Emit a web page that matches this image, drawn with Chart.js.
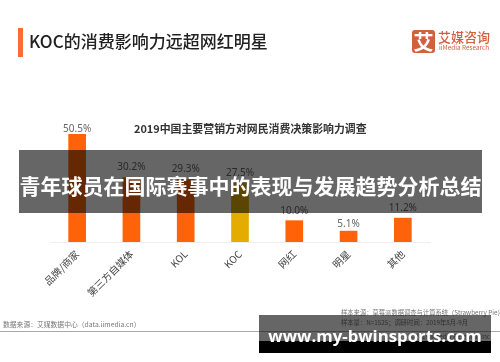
<!DOCTYPE html>
<html>
<head>
<meta charset="utf-8">
<script src="https://cdn.jsdelivr.net/npm/chart.js@4"></script>
<style>
  html, body { margin: 0; padding: 0; background: #fff; }
  #page { position: relative; width: 500px; height: 362px; overflow: hidden; font-family: "Noto Sans CJK SC", "Noto Sans", sans-serif; }
  #page div { position: absolute; white-space: nowrap; }
  canvas { position: absolute; left: 0; top: 0; }
  .note { font-size: 6.3px; line-height: 10px; color: #777; }
</style>
</head>
<body>
<div id="page">
  <canvas id="influenceChart" width="500" height="362"></canvas>

  <div style="left:18px;top:28px;width:5px;height:29px;background:#ff6b35"></div>
  <div style="left:29px;top:29px;font-size:17px;line-height:24px;color:#222;font-weight:500">KOC的消费影响力远超网红明星</div>

  <div style="left:412px;top:30px;width:23px;height:23px;border-radius:3px;background:#d2603f;color:#fff;font-size:20px;line-height:23px;text-align:center;font-weight:700">艾</div>
  <div style="left:438px;top:29px;font-size:13px;line-height:15px;color:#d2603f;font-weight:500">艾媒咨询</div>
  <div style="left:439px;top:43px;font-size:6.4px;line-height:10px;color:#d2603f">iiMedia Research</div>

  <div style="left:134px;top:120px;width:232px;text-align:center;font-size:10.9px;line-height:16px;color:#333;font-weight:700">2019中国主要营销方对网民消费决策影响力调查</div>

  <div class="note" style="left:3px;top:319px;font-size:6.8px">数据来源：艾媒数据中心（data.iimedia.cn）</div>
  <div class="note" style="left:341px;top:308px">样本来源：草莓派数据调查与计算系统（Strawberry Pie）</div>
  <div class="note" style="left:341px;top:318px">样本量：N=1525；调研时间：2019年8月-9月</div>
  <div class="note" style="right:10px;top:332px">©2019 iiMedia Research Inc</div>
  <div style="left:0;top:331px;width:500px;height:1px;background:#aaa"></div>

  <div style="left:19px;top:150px;width:463px;height:63px;background:rgba(0,0,0,.6)"></div>
  <div style="left:19px;top:150px;width:463px;height:63px;text-align:center;font-size:21px;line-height:70px;color:#fff;font-weight:700">青年球员在国际赛事中的表现与发展趋势分析总结</div>

  <div style="left:259px;top:315px;width:232px;height:26px;background:rgba(0,0,0,.6)"></div>
  <div style="left:259px;top:341px;width:232px;height:12px;background:#000"></div>
  <div style="left:259px;top:322px;width:232px;text-align:center;font-family:'Open Sans','Noto Sans',sans-serif;font-size:16.8px;line-height:28px;color:#fff;font-weight:700">www.my-bwinsports.com</div>
</div>

<script>
const categories = ["品牌/商家", "第三方自媒体", "KOL", "KOC", "网红", "明星", "其他"];
const shareValues = [50.5, 30.2, 29.3, 27.5, 10.0, 5.1, 11.2];
const barColors = ["#ff6309", "#ff6309", "#ff6309", "#e5ac00", "#ff6309", "#ff6309", "#ff6309"];
const labelGaps = [0, 5, 5, 5, 5, 2, 5];

// draws the percent figure above each bar
const valueLabels = {
  id: "valueLabels",
  afterDatasetsDraw(chart) {
    const ctx = chart.ctx;
    const bars = chart.getDatasetMeta(0).data;
    ctx.save();
    ctx.font = '10px "Noto Sans", sans-serif';
    ctx.fillStyle = "#666";
    ctx.textAlign = "center";
    ctx.textBaseline = "bottom";
    bars.forEach((bar, i) => {
      ctx.fillText(shareValues[i].toFixed(1) + "%", bar.x, bar.y - labelGaps[i]);
    });
    ctx.restore();
  }
};

const chart = new Chart(document.getElementById("influenceChart").getContext("2d"), {
  type: "bar",
  data: {
    labels: categories,
    datasets: [{
      data: shareValues,
      backgroundColor: barColors,
      barThickness: 17
    }]
  },
  options: {
    responsive: false,
    animation: false,
    layout: { padding: { left: 50, right: 70, top: 114, bottom: 0 } },
    plugins: {
      legend: { display: false },
      tooltip: { enabled: false }
    },
    scales: {
      y: { display: false, min: 0, max: 60 },
      x: {
        afterFit(scale) { scale.height = 120; },
        grid: { display: false, drawTicks: false },
        border: { color: "#eeeeee", width: 1 },
        ticks: {
          autoSkip: false,
          minRotation: 45,
          maxRotation: 45,
          padding: 6,
          color: "#444",
          font: { size: 10, family: '"Noto Sans CJK SC", "Noto Sans", sans-serif' }
        }
      }
    }
  },
  plugins: [valueLabels]
});
</script>
</body>
</html>
